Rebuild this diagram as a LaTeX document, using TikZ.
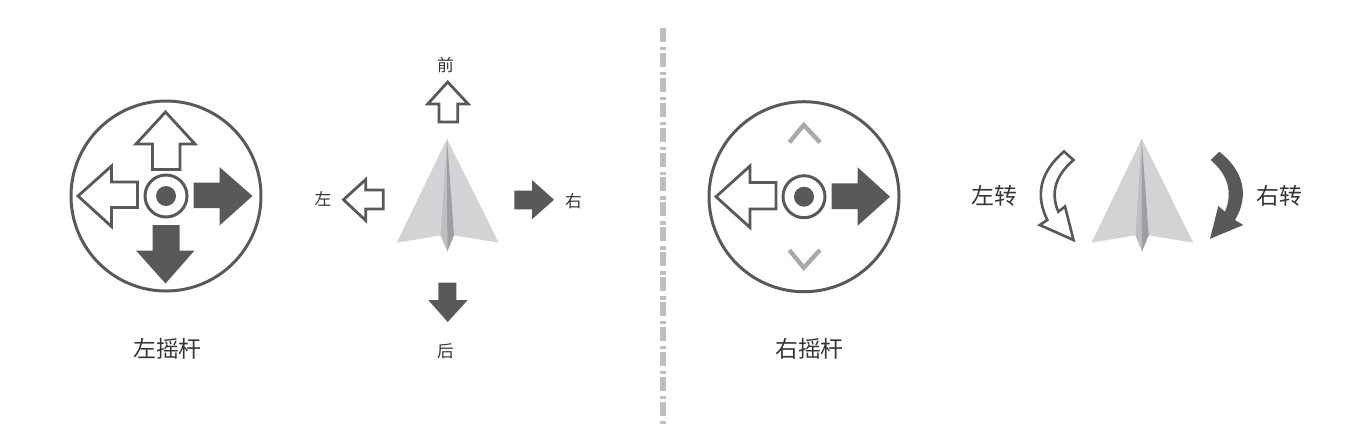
\documentclass[tikz,border=0pt]{standalone}
\usepackage{fontspec}
\setmainfont{Noto Sans CJK SC}
\definecolor{darkgrey}{HTML}{58595B}
\definecolor{lightgrey}{HTML}{BCBEC0}
\definecolor{chevrongrey}{HTML}{A7A9AC}
\definecolor{wing}{HTML}{D1D3D4}
\definecolor{foldleft}{HTML}{BCBEC0}
\definecolor{foldright}{HTML}{9D9FA2}
\tikzset{
    ring/.style={darkgrey, line width=1.7pt},
    openarrow/.style={draw=darkgrey, fill=white, line width=1.6pt, line join=miter},
    fullarrow/.style={fill=darkgrey},
    chevron/.style={chevrongrey, line width=2.5pt},
    biglabel/.style={font=\fontsize{13}{13}\selectfont, text=darkgrey!60!black, inner sep=0pt},
    smalllabel/.style={font=\fontsize{9.5}{9.5}\selectfont, text=darkgrey!60!black, inner sep=0pt}
}
\begin{document}
\begin{tikzpicture}[x=0.02cm, y=-0.02cm]
        \useasboundingbox (0,0) rectangle (1358,441);
        
        % left stick
        \draw [ring] (166,196) circle [radius=95];
        \draw [ring] (166,196) circle [radius=21];
        \fill [darkgrey] (166,196) circle [radius=10];
        \draw [openarrow] (165.5,112) -- (195,144) -- (180,144) -- (180,169.5) -- (152.5,169.5) -- (152.5,144) -- (136,144) -- cycle;
        \draw [openarrow] (78,196) -- (111.5,166) -- (111.5,182) -- (137.5,182) -- (137.5,207.5) -- (111.5,207.5) -- (111.5,226.5) -- cycle;
        \fill [fullarrow] (252.5,196) -- (219.5,167) -- (219.5,182.5) -- (193.5,182.5) -- (193.5,208) -- (219.5,208) -- (219.5,225.5) -- cycle;
        \fill [fullarrow] (165.5,283.5) -- (136,250.5) -- (152.5,250.5) -- (152.5,225) -- (179.5,225) -- (179.5,250.5) -- (194.5,250.5) -- cycle;
        \node [biglabel] (leftstick) at (167.5,349) {左摇杆};
        
        % planes
        \foreach \planeshift in {0,694.7} {
            \begin{scope}[xshift=\planeshift*0.02cm]
                \fill [wing] (447,139) -- (498.7,242.7) -- (454,235.3) -- (447.3,251.3) -- (440.7,235.3) -- (396.7,242.7) -- cycle;
                \fill [foldleft] (447,139) -- (440.7,235.3) -- (447.3,251.3) -- cycle;
                \fill [foldright] (447,139) -- (454,235.3) -- (447.3,251.3) -- cycle;
            \end{scope}
        }
        
        % small arrows round the left plane
        \draw [openarrow, line width=1.6pt] (447.7,82) -- (468.2,104) -- (457.7,104) -- (457.7,122) -- (439,122) -- (439,104) -- (427.7,104) -- cycle;
        \draw [openarrow, line width=1.6pt] (343.5,199.7) -- (365.7,179.5) -- (365.7,190) -- (383.3,190) -- (383.3,209) -- (365.7,209) -- (365.7,220.5) -- cycle;
        \fill [fullarrow] (554,199.7) -- (532,180) -- (532,190.7) -- (514.3,190.7) -- (514.3,209.3) -- (532,209.3) -- (532,219.3) -- cycle;
        \fill [fullarrow] (447.7,322) -- (428.3,300) -- (438.3,300) -- (438.3,282.7) -- (456.3,282.7) -- (456.3,300) -- (467.7,300) -- cycle;
        \node [smalllabel] (front) at (445.5,65.5) {前};
        \node [smalllabel] (back) at (445.5,351) {后};
        \node [smalllabel] (left) at (323,199) {左};
        \node [smalllabel] (right) at (573.5,201) {右};
        
        % divider
        \draw [lightgrey, line width=3.4pt, dash pattern=on 7.94pt off 2.84pt on 1.98pt off 1.42pt] (663,28) -- (663,424);
        
        % right stick
        \draw [ring] (804,196.7) circle [radius=95];
        \draw [ring] (804,196.7) circle [radius=21];
        \fill [darkgrey] (804,196.7) circle [radius=10];
        \draw [chevron] (789.3,142.3) -- (803.7,125) -- (820,142.3);
        \draw [chevron] (789.3,250) -- (803.7,267.7) -- (820,250);
        \draw [openarrow] (716,196.7) -- (750,166) -- (750,182.5) -- (776,182.5) -- (776,209) -- (750,209) -- (750,227.5) -- cycle;
        \fill [fullarrow] (890,196.7) -- (857.7,167.3) -- (857.7,183.3) -- (831.7,183.3) -- (831.7,209) -- (857.7,209) -- (857.7,225.7) -- cycle;
        \node [biglabel] (rightstick) at (809.5,349) {右摇杆};
        
        % turn arrows
        \draw [openarrow, line width=1.5pt] (1064,151.5) .. controls (1040,172) and (1035,195) .. (1047.3,220) -- (1039.8,225) -- (1073.5,240) -- (1065,206.5) -- (1058.3,211.7) .. controls (1050,192) and (1056,175) .. (1073.5,160) -- cycle;
        \fill [fullarrow] (1219.3,151.7) .. controls (1243,170) and (1250,195) .. (1235,220) -- (1243.3,225) -- (1210,238.8) -- (1218.3,206) -- (1225,211.7) .. controls (1233,192) and (1228,175) .. (1210.7,160) -- cycle;
        \node [biglabel] (turnleft) at (994,195.5) {左转};
        \node [biglabel] (turnright) at (1279,195.5) {右转};
        
        \end{tikzpicture}
\end{document}
